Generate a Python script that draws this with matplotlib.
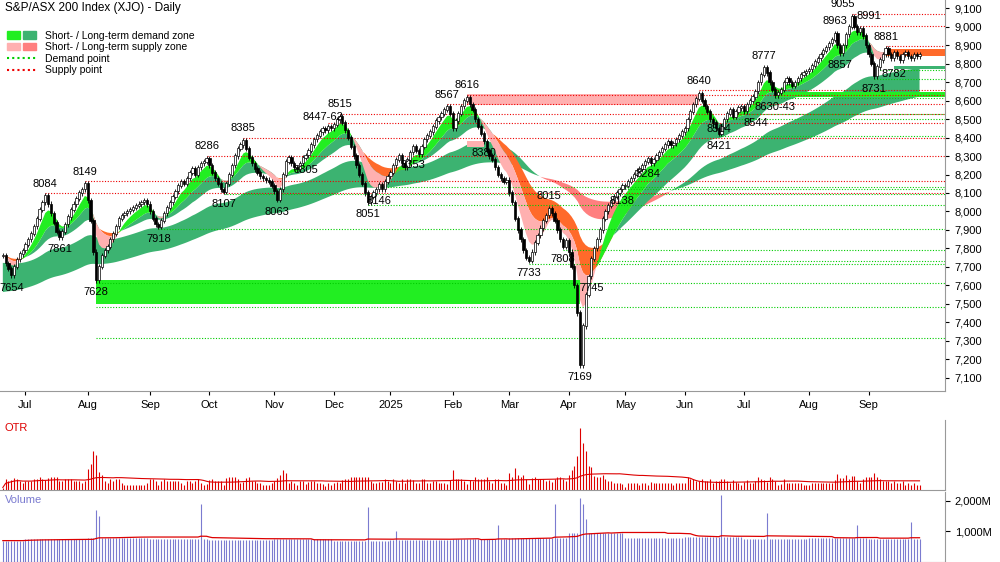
import numpy as np
import pandas as pd
import matplotlib
matplotlib.use("Agg")
import matplotlib.pyplot as plt
from matplotlib.patches import Patch, Rectangle
from matplotlib.lines import Line2D
from matplotlib.legend_handler import HandlerTuple

plt.rcParams['font.family'] = ['Liberation Sans', 'DejaVu Sans']

months = ["Jun", "Jul", "Aug", "Sep", "Oct", "Nov", "Dec", "2025", "Feb", "Mar", "Apr", "May", "Jun", "Jul", "Aug", "Sep"]
closes_by_month = [
    [7760,7720,7690,7654,7700,7740,7770,7790],
    [7820,7850,7880,7920,7960,8010,8050,8084,8040,7990,7940,7890,7861,7890,7930,7970,8010,8040,8070,8100,8120,8149],
    [8060,7950,7780,7628,7700,7760,7790,7810,7850,7880,7920,7960,7980,7990,8000,8010,8020,8030,8040,8050,8060,8040],
    [8000,7960,7930,7918,7950,7990,8020,8050,8080,8110,8140,8160,8150,8180,8210,8230,8200,8240,8260,8270,8286],
    [8250,8210,8180,8150,8120,8107,8150,8200,8250,8300,8340,8360,8385,8340,8290,8260,8230,8210,8190,8180,8170,8160,8140],
    [8110,8063,8120,8200,8270,8290,8260,8240,8230,8260,8290,8305,8330,8360,8390,8410,8430,8447,8440,8462,8450],
    [8470,8495,8515,8480,8440,8400,8350,8300,8250,8200,8150,8100,8051,8080,8100,8120,8146,8120,8160,8190],
    [8210,8250,8280,8300,8260,8240,8280,8320,8353,8330,8310,8350,8390,8410,8430,8460,8490,8510,8530,8550,8567,8530],
    [8450,8490,8530,8570,8600,8616,8580,8550,8500,8460,8420,8380,8330,8300,8280,8240,8200,8180,8160,8170],
    [8100,8050,7960,7900,7850,7790,7750,7733,7780,7830,7870,7910,7950,7980,8015,7990,7950,7900,7850,7808,7840],
    [7780,7700,7600,7450,7169,7380,7550,7650,7745,7800,7850,7900,7960,8000,8030,8060,8080,8100,8120,8138],
    [8140,8160,8180,8200,8220,8230,8250,8270,8284,8260,8280,8300,8320,8340,8360,8380,8360,8370,8390,8410,8430],
    [8450,8500,8540,8580,8610,8640,8600,8570,8540,8500,8480,8450,8421,8460,8500,8530,8550,8514,8540,8560,8570],
    [8544,8580,8600,8620,8650,8700,8740,8777,8750,8700,8660,8630,8643,8660,8700,8720,8700,8680,8700,8720,8740,8750,8760],
    [8770,8790,8810,8830,8850,8870,8890,8910,8930,8963,8900,8857,8900,8960,9000,9055,9000,8970,8991,8950,8900],
    [8850,8800,8731,8782,8820,8850,8881,8850,8830,8860,8840,8820,8850,8860,8840,8830,8850,8840,8850],
]
# typical daily volume per month (millions) and spike days (month, day-in-month, millions)
month_volume = [700, 750, 800, 750, 720, 740, 700, 720, 760, 800, 950, 800, 820, 760, 780, 760]
volume_spikes = [(2, 3, 1700), (2, 4, 1500), (3, 18, 1900), (6, 12, 1800), (7, 2, 1000), (8, 16, 1200),
                 (9, 16, 1900), (10, 4, 2100), (10, 5, 1900), (10, 6, 1400), (12, 13, 2200), (13, 8, 1600),
                 (14, 17, 1200), (15, 15, 1300)]
peak_labels = [8084, 8149, 8286, 8385, "8447-62", 8515, 8567, 8616, 8015, 8640, 8777, 8963, 9055, 8991, 8881]
trough_labels = [7654, 7861, 7628, 7918, 8107, 8063, 8305, 8051, 8146, 8353, 7733, 7808, 7169, 7745, 8138,
                 8284, 8380, 8421, 8514, 8544, "8630-43", 8857, 8731, 8782]
supply_levels = [9055, 8991, 8881, 8640, 8616, 8567, 8515, 8462, 8385, 8286, 8149, 8084]
demand_levels = [8782, 8731, 8630, 8544, 8514, 8421, 8138, 8146, 8107, 8051, 7918, 7808, 7745, 7733, 7628, 7500, 7330]

closes = np.array([c for m in closes_by_month for c in m], dtype=float)
n = len(closes)
opens = np.r_[closes[0], closes[:-1]]
highs = np.maximum(opens, closes) + 14
lows = np.minimum(opens, closes) - 14
month_start = np.cumsum([0] + [len(m) for m in closes_by_month[:-1]])
vol = np.array([month_volume[i] for i, m in enumerate(closes_by_month) for _ in m], dtype=float)
for mi, d, v in volume_spikes:
    vol[month_start[mi] + d] = v
x = np.arange(n)

fig = plt.figure(figsize=(10, 5.62), dpi=100)
ax = fig.add_axes([0, 0.305, 0.945, 0.695])
ax2 = fig.add_axes([0, 0.128, 0.945, 0.125], sharex=ax)
ax3 = fig.add_axes([0, 0.0, 0.945, 0.125], sharex=ax)

s = pd.Series(closes)
def ema(k):
    return s.ewm(span=k, adjust=False).mean().values

# long-term band
l1 = pd.Series(np.r_[np.full(60, 7720.0), closes]).ewm(span=60, adjust=False).mean().values[60:]
l2 = pd.Series(np.r_[np.full(60, 7560.0), closes]).ewm(span=120, adjust=False).mean().values[60:]
ax.fill_between(x, l1, l2, where=l1 >= l2, color="#3cb371", lw=0, interpolate=True, zorder=1)
ax.fill_between(x, l1, l2, where=l1 < l2, color="#ff7f7f", lw=0, interpolate=True, zorder=1)
# short-term bands
e5, e15, e30 = ema(6), ema(15), ema(30)
ax.fill_between(x, e15, e30, where=e15 >= e30, color="#3cb371", lw=0, interpolate=True, zorder=2)
ax.fill_between(x, e15, e30, where=e15 < e30, color="#ff6a2a", lw=0, interpolate=True, zorder=2)
ax.fill_between(x, e5, e15, where=e5 >= e15, color="#22ee22", lw=0, interpolate=True, zorder=2)
ax.fill_between(x, e5, e15, where=e5 < e15, color="#ffb0b0", lw=0, interpolate=True, zorder=2)

def idx_of(v):
    return int(np.where(closes == v)[0][0])

# zones
ax.add_patch(Rectangle((idx_of(7628), 7500), idx_of(7169) - idx_of(7628), 128, color="#22ee22", lw=0, zorder=2))
ax.add_patch(Rectangle((idx_of(8630), 8622), n + 10 - idx_of(8630), 25, color="#22ee22", lw=0, zorder=2))
ax.add_patch(Rectangle((idx_of(8616), 8575), idx_of(8640) - idx_of(8616), 60, color="#ffb0b0", lw=0, zorder=1))
ax.add_patch(Rectangle((idx_of(8616), 8350), idx_of(8380) - idx_of(8616), 30, color="#ffb0b0", lw=0, zorder=1))
ax.add_patch(Rectangle((idx_of(8881), 8840), n + 10 - idx_of(8881), 41, color="#ff6a2a", lw=0, zorder=2))
ax.add_patch(Rectangle((idx_of(8782) + 6, 8770), n + 10 - idx_of(8782) - 6, 20, color="#3cb371", lw=0, zorder=2))

# levels
for v in supply_levels:
    i0 = idx_of(v) if v in closes else 0
    ax.hlines(v + 15, i0, n + 10, colors="#ee0000", linestyles=(0, (1, 1.5)), lw=0.8, zorder=3)
for v in demand_levels:
    i0 = idx_of(v) if v in closes else idx_of(7628)
    ax.hlines(v - 15, i0, n + 10, colors="#00cc00", linestyles=(0, (1, 1.5)), lw=0.8, zorder=3)

# candles
up = closes >= opens
ax.vlines(x, lows, highs, color="black", lw=0.6, zorder=4)
ax.bar(x, np.abs(closes - opens) + 3, bottom=np.minimum(opens, closes), width=0.8,
       color=np.where(up, "white", "black"), edgecolor="black", lw=0.5, zorder=5)

peak_dx = {9055: -3, 8991: 3}
for lab in peak_labels:
    v = int(str(lab).split("-")[0])
    i = idx_of(v)
    ax.text(i + peak_dx.get(v, 0), highs[i] + 25, str(lab), ha="center", va="bottom", fontsize=8, zorder=6)
trough_dx = {8782: 6, 8514: -5, 8544: 4}
trough_dy = {8782: 80}
for lab in trough_labels:
    v = int(str(lab).split("-")[0])
    i = idx_of(v)
    ax.text(i + trough_dx.get(v, 0), lows[i] - 25 + trough_dy.get(v, 0), str(lab),
            ha="center", va="top", fontsize=8, zorder=6)

ax.set_xlim(-1, n + 8)
ax.set_ylim(7030, 9145)
yt = np.arange(7100, 9101, 100)
ax.set_yticks(yt)
ax.set_yticklabels([f"{v:,}" for v in yt], fontsize=8)
ax.yaxis.tick_right()
ax.set_xticks(month_start[1:])
ax.set_xticklabels(months[1:], fontsize=8)
ax.tick_params(axis="x", length=3)
ax.tick_params(axis="y", length=3)
for a in (ax, ax2, ax3):
    for sp in ("top", "left"):
        a.spines[sp].set_visible(False)
    a.spines["right"].set_color("#999999")
    a.spines["bottom"].set_color("#999999")

ax.text(0.005, 0.995, "S&P/ASX 200 Index (XJO) - Daily", transform=ax.transAxes, fontsize=8.5,
        va="top", ha="left")
handles = [
    (Patch(color="#22ee22"), Patch(color="#3cb371")),
    (Patch(color="#ffb0b0"), Patch(color="#ff7f7f")),
    Line2D([], [], color="#00cc00", ls=(0, (1, 1.5))),
    Line2D([], [], color="#ee0000", ls=(0, (1, 1.5))),
]
ax.legend(handles, ["Short- / Long-term demand zone", "Short- / Long-term supply zone", "Demand point", "Supply point"],
          loc="upper left", bbox_to_anchor=(0.0, 0.94), frameon=False, fontsize=7.5,
          handler_map={tuple: HandlerTuple(ndivide=None, pad=0.3)}, handlelength=2.8,
          labelspacing=0.15, borderaxespad=0.3)

# OTR
otr = np.abs(closes - opens) + 12
ax2.vlines(x, 0, otr, color="#dd0000", lw=0.8)
ax2.plot(x, pd.Series(otr).rolling(40, min_periods=1).mean(), color="#dd0000", lw=0.8)
ax2.set_ylim(0, 330)
ax2.set_yticks([])
ax2.text(0.005, 0.95, "OTR", transform=ax2.transAxes, color="#dd0000", fontsize=8, va="top")
plt.setp(ax2.get_xticklabels(), visible=False)
ax2.tick_params(axis="x", length=0)

# Volume
ax3.vlines(x, 0, vol, color="#7b7bd0", lw=0.8)
ax3.plot(x, pd.Series(vol).rolling(40, min_periods=1).mean(), color="#dd0000", lw=0.9)
ax3.set_ylim(0, 2300)
ax3.yaxis.tick_right()
ax3.set_yticks([1000, 2000])
ax3.set_yticklabels(["1,000M", "2,000M"], fontsize=8)
ax3.text(0.005, 0.95, "Volume", transform=ax3.transAxes, color="#7b7bd0", fontsize=8, va="top")
plt.setp(ax3.get_xticklabels(), visible=False)
ax3.tick_params(axis="x", length=0)

fig.savefig("out.png", dpi=100)
